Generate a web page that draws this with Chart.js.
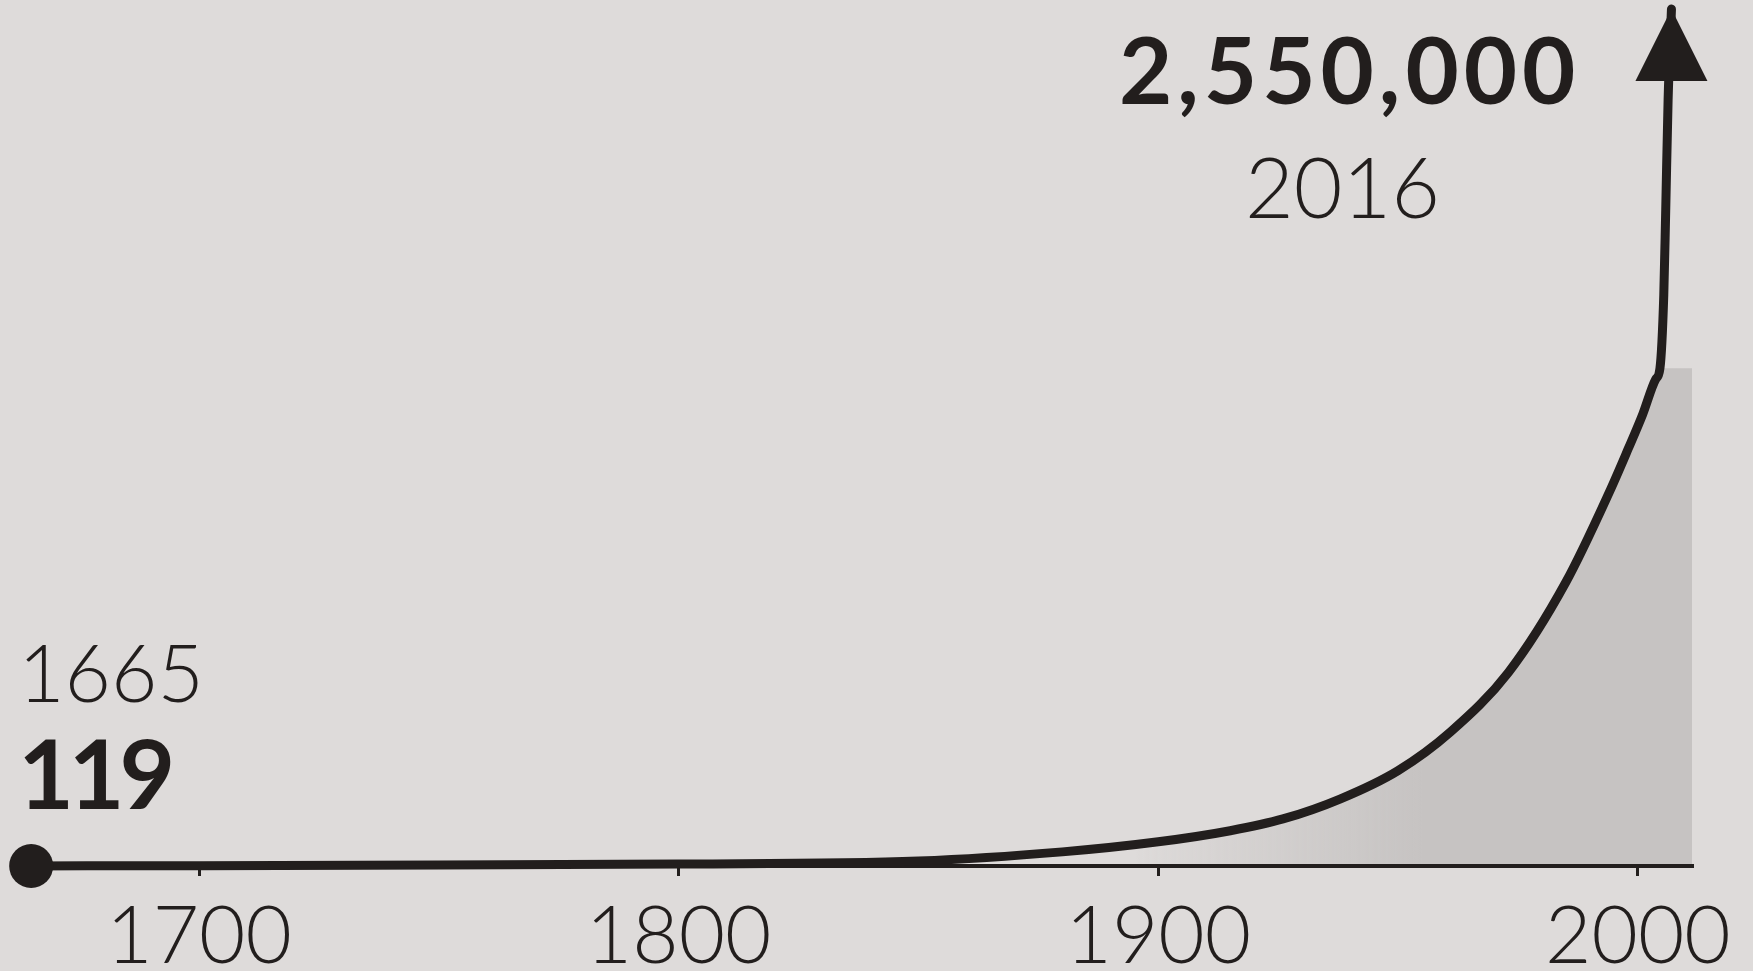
<!DOCTYPE html>
<html>
<head>
<meta charset="utf-8">
<title>Population 1665–2016</title>
<script src="https://cdn.jsdelivr.net/npm/chart.js@4.4.1/dist/chart.umd.min.js"></script>
<style>
  html, body { margin: 0; padding: 0; background: #dedbda; }
  #wrap { position: relative; width: 1753px; height: 971px; overflow: hidden; }
</style>
</head>
<body>
<div id="wrap"><canvas id="chart"></canvas></div>
<script>
// Values (not drawn to an exact scale in the original)
const years = [1665, 1700, 1750, 1800, 1850, 1880, 1900, 1915, 1926, 1938, 1950, 1961, 1973, 1985, 1994, 1998, 2001, 2003.7, 2004.6, 2005.4, 2005.8, 2006.3, 2007];
const population = [119, 1000, 3000, 6000, 15000, 42000, 72000, 105000, 140000, 200000, 284000, 400000, 576000, 845000, 1111000, 1242000, 1344000, 1448000, 1481000, 1700000, 1950000, 2280000, 2550000];

// grey shaded block under the steep part, ends at the right edge of the axis
const shadeEdgeYear = 2011.3;
const kinkYear = 2004.6;

// baseline (x axis) runs from the first point to just past 2000
const axisYears = [1665, 2011.7];
const axisValues = [0, 0];

const tickYears = [1700, 1800, 1900, 2000];

const startLabels = ['1665', '119'];
const endLabels = ['2,550,000', '2016'];

const INK = '#221e1d';
const SHADE = 'rgba(198, 195, 194, 1)';

const k = years.indexOf(kinkYear);
const shadeYears = years.slice(0, k + 1).concat([shadeEdgeYear]);
const shadeValues = population.slice(0, k + 1).concat([population[k]]);

const toPoints = (xs, ys) => xs.map((x, i) => ({ x: x, y: ys[i] }));

// labels and arrow head, hung off the first and last point of the curve
const annotate = {
  id: 'annotate',
  afterDatasetsDraw(chart) {
    const ctx = chart.ctx;
    const pts = chart.getDatasetMeta(0).data;
    const first = pts[0];
    const last = pts[pts.length - 1];
    ctx.save();
    ctx.fillStyle = INK;

    ctx.beginPath();
    ctx.moveTo(last.x, last.y);
    ctx.lineTo(last.x + 36, last.y + 72);
    ctx.lineTo(last.x - 36, last.y + 72);
    ctx.closePath();
    ctx.fill();

    ctx.textBaseline = 'alphabetic';
    ctx.textAlign = 'left';
    ctx.font = '300 80px Lato';
    ctx.fillText(startLabels[0], first.x - 13, first.y - 164);
    ctx.font = 'bold 96px Lato';
    ctx.letterSpacing = '-5px';
    ctx.fillText(startLabels[1], first.x - 13, first.y - 57);

    ctx.textAlign = 'right';
    ctx.font = 'bold 92px Lato';
    ctx.letterSpacing = '5px';
    ctx.fillText(endLabels[0], last.x - 91, last.y + 95);
    ctx.letterSpacing = '0px';
    ctx.textAlign = 'center';
    ctx.font = '300 84px Lato';
    ctx.fillText(endLabels[1], last.x - 329, last.y + 209);
    ctx.restore();
  }
};

new Chart(document.getElementById('chart'), {
  type: 'line',
  data: {
    datasets: [
      {
        data: toPoints(years, population),
        borderColor: INK,
        borderWidth: 9,
        borderCapStyle: 'round',
        borderJoinStyle: 'round',
        cubicInterpolationMode: 'monotone',
        pointRadius: years.map((y, i) => (i === 0 ? 22 : 0)),
        pointBackgroundColor: INK,
        pointBorderWidth: 0,
        fill: false,
        clip: false
      },
      {
        data: toPoints(axisYears, axisValues),
        borderColor: INK,
        borderWidth: 4,
        pointRadius: 0,
        fill: false,
        clip: false
      },
      {
        data: toPoints(shadeYears, shadeValues),
        borderWidth: 0,
        borderColor: 'rgba(0,0,0,0)',
        cubicInterpolationMode: 'monotone',
        pointRadius: 0,
        fill: 'origin',
        backgroundColor: (context) => {
          const chart = context.chart;
          const x = chart.scales.x;
          if (!x || !chart.chartArea) return SHADE;
          const g = chart.ctx.createLinearGradient(x.getPixelForValue(1895), 0, x.getPixelForValue(1955), 0);
          g.addColorStop(0, 'rgba(198, 195, 194, 0)');
          g.addColorStop(1, SHADE);
          return g;
        }
      }
    ]
  },
  options: {
    responsive: true,
    maintainAspectRatio: false,
    animation: false,
    layout: { autoPadding: false, padding: { top: 9, left: 0, right: 0, bottom: -27 } },
    plugins: {
      legend: { display: false },
      tooltip: { enabled: false }
    },
    scales: {
      x: {
        type: 'linear',
        min: 1658.5,
        max: 2024,
        afterBuildTicks: (scale) => {
          scale.ticks = tickYears.map(v => ({ value: v }));
        },
        grid: {
          display: true,
          drawOnChartArea: false,
          drawTicks: true,
          tickLength: 10,
          tickColor: INK,
          tickWidth: 3
        },
        border: { display: false },
        ticks: {
          color: INK,
          padding: 21,
          maxRotation: 0,
          autoSkip: false,
          font: { family: 'Lato', size: 80, weight: '300', lineHeight: 1 },
          callback: (v) => String(v)
        }
      },
      y: {
        display: false,
        min: 0,
        max: 2550000
      }
    }
  },
  plugins: [annotate]
});
</script>
</body>
</html>
